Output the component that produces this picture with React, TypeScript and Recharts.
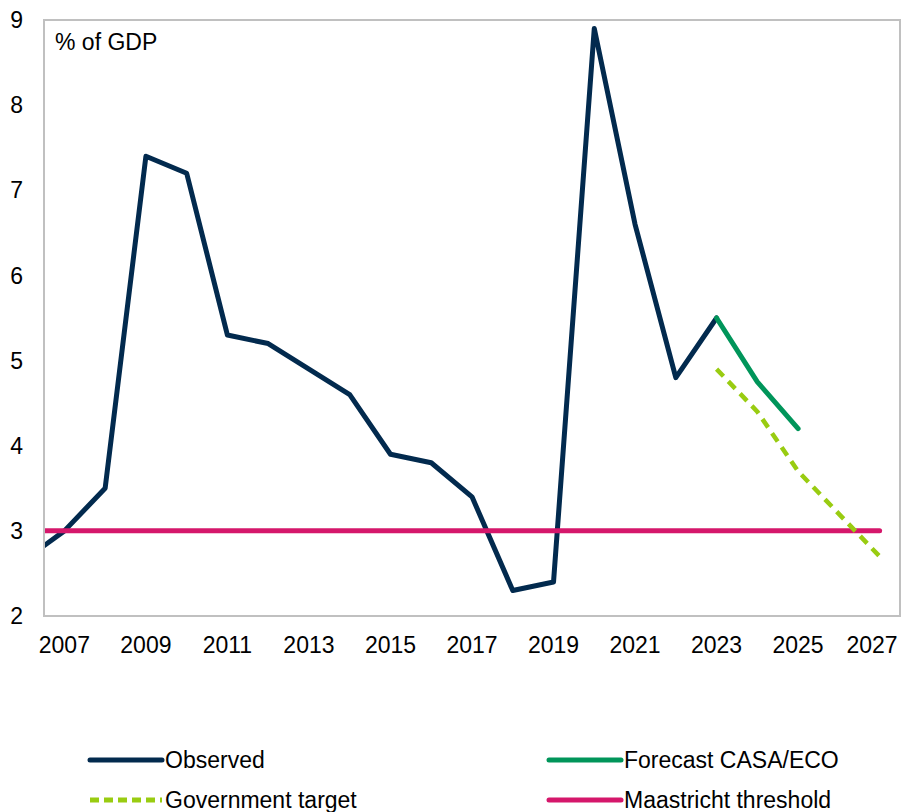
import React from 'react';
import { LineChart, Line, XAxis, YAxis, ReferenceArea, Legend } from 'recharts';

const years = [2006, 2007, 2008, 2009, 2010, 2011, 2012, 2013, 2014, 2015, 2016, 2017, 2018, 2019, 2020, 2021, 2022, 2023, 2024, 2025, 2026, 2027];
const observed = [2.65, 3.0, 3.5, 7.4, 7.2, 5.3, 5.2, 4.9, 4.6, 3.9, 3.8, 3.4, 2.3, 2.4, 8.9, 6.6, 4.8, 5.5, null, null, null, null];
const forecast = [null, null, null, null, null, null, null, null, null, null, null, null, null, null, null, null, null, 5.5, 4.75, 4.2, null, null];
const target = [null, null, null, null, null, null, null, null, null, null, null, null, null, null, null, null, null, 4.9, 4.4, 3.7, 3.2, 2.7];
const maastricht = [3, 3, 3, 3, 3, 3, 3, 3, 3, 3, 3, 3, 3, 3, 3, 3, 3, 3, 3, 3, 3, 3];
const xTicks = [2007, 2009, 2011, 2013, 2015, 2017, 2019, 2021, 2023, 2025, 2027];
const yTicks = [2, 3, 4, 5, 6, 7, 8, 9];

const data = years.map((y, i) => ({
  year: y,
  observed: observed[i],
  forecast: forecast[i],
  target: target[i],
  maastricht: maastricht[i],
}));

const COLORS = {
  observed: '#022A4E',
  forecast: '#00955A',
  target: '#99CC11',
  maastricht: '#D5176B',
};

const FONT = 'Liberation Sans, Arial, sans-serif';

const legendItems = [
  { label: 'Observed', color: COLORS.observed, dash: undefined as string | undefined, x: 90, y: 30 },
  { label: 'Forecast CASA/ECO', color: COLORS.forecast, dash: undefined, x: 549, y: 30 },
  { label: 'Government target', color: COLORS.target, dash: '9 5', x: 90, y: 70 },
  { label: 'Maastricht threshold', color: COLORS.maastricht, dash: undefined, x: 549, y: 70 },
];

const renderLegend = () => (
  <svg width={908} height={82} style={{ display: 'block' }}>
    {legendItems.map((it) => (
      <g key={it.label}>
        <line
          x1={it.x}
          x2={it.x + 72}
          y1={it.y}
          y2={it.y}
          stroke={it.color}
          strokeWidth={5}
          strokeDasharray={it.dash}
          strokeLinecap={it.dash ? 'butt' : 'round'}
        />
        <text x={it.x + 75} y={it.y} dominantBaseline="central" fontFamily={FONT} fontSize={23} fill="#000">
          {it.label}
        </text>
      </g>
    ))}
  </svg>
);

const renderXTick = (props: any) => {
  const { x, y, payload } = props;
  const last = payload.value === xTicks[xTicks.length - 1];
  return (
    <text
      x={last ? x + 18 : x}
      y={y}
      dy="0.71em"
      textAnchor={last ? 'end' : 'middle'}
      fontFamily={FONT}
      fontSize={23}
      fill="#000"
    >
      {payload.value}
    </text>
  );
};

const renderAreaLabel = (props: any) => {
  const vb = props.viewBox || {};
  return (
    <text x={(vb.x || 0) + 11} y={(vb.y || 0) + 30} fontFamily={FONT} fontSize={23} fill="#000">
      % of GDP
    </text>
  );
};

export default function App() {
  return (
    <div style={{ position: 'absolute', left: 0, top: 0, width: 908, height: 812 }}>
      <LineChart
        width={908}
        height={812}
        data={data}
        margin={{ top: 20, right: 8, left: 8, bottom: 156 }}
      >
        <XAxis
          dataKey="year"
          type="number"
          domain={[2006.5, 2027.5]}
          allowDataOverflow
          ticks={xTicks}
          interval={0}
          height={40}
          tickLine={false}
          tickSize={0}
          tickMargin={21}
          axisLine={{ stroke: '#C0C0C0', strokeWidth: 2 }}
          tick={renderXTick}
        />
        <YAxis
          domain={[2, 9]}
          ticks={yTicks}
          interval={0}
          width={36}
          tickLine={false}
          tickSize={0}
          tickMargin={21}
          axisLine={{ stroke: '#C0C0C0', strokeWidth: 2 }}
          tick={{ fill: '#000', fontSize: 23, fontFamily: FONT }}
        />
        <ReferenceArea
          x1={2006.5}
          x2={2027.5}
          y1={2}
          y2={9}
          fill="none"
          stroke="#C0C0C0"
          strokeWidth={2}
          ifOverflow="visible"
          label={renderAreaLabel}
        />
        <Line
          dataKey="observed"
          stroke={COLORS.observed}
          strokeWidth={5}
          dot={false}
          activeDot={false}
          strokeLinejoin="round"
          strokeLinecap="round"
          isAnimationActive={false}
        />
        <Line
          dataKey="forecast"
          stroke={COLORS.forecast}
          strokeWidth={5}
          dot={false}
          activeDot={false}
          strokeLinejoin="round"
          strokeLinecap="round"
          isAnimationActive={false}
        />
        <Line
          dataKey="maastricht"
          stroke={COLORS.maastricht}
          strokeWidth={5}
          dot={false}
          activeDot={false}
          strokeLinecap="round"
          isAnimationActive={false}
        />
        <Line
          dataKey="target"
          stroke={COLORS.target}
          strokeWidth={4.5}
          strokeDasharray="10 7"
          dot={false}
          activeDot={false}
          isAnimationActive={false}
        />
        <Legend
          layout="horizontal"
          verticalAlign="middle"
          align="center"
          content={renderLegend}
          wrapperStyle={{ top: 730, left: 0, width: 908 }}
        />
      </LineChart>
    </div>
  );
}
